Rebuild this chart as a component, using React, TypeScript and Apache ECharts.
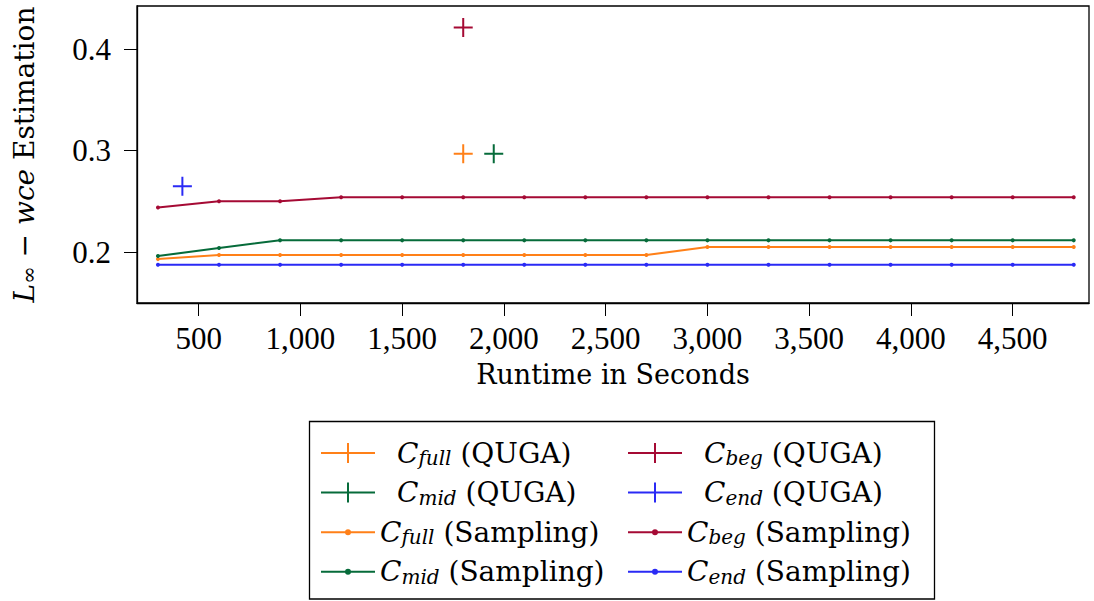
import React, { useEffect, useRef } from "react";
import * as echarts from "echarts";

// ---- data ----
const sampleTimes = [300, 600, 900, 1200, 1500, 1800, 2100, 2400, 2700, 3000, 3300, 3600, 3900, 4200, 4500, 4800];
const cFullSampling = [0.193, 0.197, 0.197, 0.197, 0.197, 0.197, 0.197, 0.197, 0.197, 0.205, 0.205, 0.205, 0.205, 0.205, 0.205, 0.205];
const cBegSampling = [0.244, 0.250, 0.250, 0.254, 0.254, 0.254, 0.254, 0.254, 0.254, 0.254, 0.254, 0.254, 0.254, 0.254, 0.254, 0.254];
const cMidSampling = [0.196, 0.204, 0.2115, 0.2115, 0.2115, 0.2115, 0.2115, 0.2115, 0.2115, 0.2115, 0.2115, 0.2115, 0.2115, 0.2115, 0.2115, 0.2115];
const cEndSampling = [0.1875, 0.1875, 0.1875, 0.1875, 0.1875, 0.1875, 0.1875, 0.1875, 0.1875, 0.1875, 0.1875, 0.1875, 0.1875, 0.1875, 0.1875, 0.1875];

const cFullQuga = [1800, 0.297];
const cBegQuga = [1800, 0.4215];
const cMidQuga = [1950, 0.297];
const cEndQuga = [420, 0.265];

const xTicks = [500, 1000, 1500, 2000, 2500, 3000, 3500, 4000, 4500];
const yTicks = [0.2, 0.3, 0.4];

const names = {
  fullQ: "Cfull (QUGA)",
  begQ: "Cbeg (QUGA)",
  midQ: "Cmid (QUGA)",
  endQ: "Cend (QUGA)",
  fullS: "Cfull (Sampling)",
  begS: "Cbeg (Sampling)",
  midS: "Cmid (Sampling)",
  endS: "Cend (Sampling)",
};

const COLORS = {
  full: "#ff8018",
  beg: "#a50a34",
  mid: "#066b3a",
  end: "#2a2af5",
};

const NUMFONT = "'Liberation Serif', 'Times New Roman', serif";
const FONT = "'DejaVu Serif', 'Liberation Serif', serif";

const crossPath = "path://M0,-1L0,1M-1,0L1,0";
const legendCross = "path://M0,10L54,10M27,0L27,20";
const legendDot = "path://M27,0M27,20M0,10L54,10M25,10A2,2 0 1,1 29,10A2,2 0 1,1 25,10Z";

function legendLabel(name: string): string {
  const m = name.match(/^C(\w+) \((\w+)\)$/);
  if (!m) return name;
  const sp = m[2] === "QUGA" ? "{sp| }" : "";
  return `${sp}{c|C}{s|${m[1]}}{t| (${m[2]})}`;
}

export default function App() {
  const ref = useRef<HTMLDivElement>(null);
  useEffect(() => {
    if (!ref.current) return;
    const chart = echarts.init(ref.current, null, { renderer: "svg" });

    const legendItem = (name: string, color: string, quga: boolean) => ({
      name,
      icon: quga ? legendCross : legendDot,
      itemStyle: { color, borderColor: color, borderWidth: 2 },
    });

    const richText = {
      c: { fontFamily: FONT, fontSize: 28, fontStyle: "italic", lineHeight: 30, color: "#000" },
      s: { fontFamily: FONT, fontSize: 20, fontStyle: "italic", lineHeight: 16, verticalAlign: "bottom", color: "#000" },
      t: { fontFamily: FONT, fontSize: 28, lineHeight: 30, color: "#000" },
      sp: { width: 17, fontSize: 28, lineHeight: 30 },
    };

    const legendCommon = {
      orient: "vertical",
      padding: 0,
      itemWidth: 54,
      itemHeight: 20,
      itemGap: 10.6,
      formatter: legendLabel,
      textStyle: { fontFamily: FONT, fontSize: 28, color: "#000", rich: richText },
      selectedMode: false,
    };

    const option: any = {
      animation: false,
      backgroundColor: "#fff",
      grid: {
        left: 137,
        top: 6,
        right: 5,
        bottom: 298,
        show: true,
        borderColor: "#000",
        borderWidth: 1.3,
        containLabel: false,
      },
      xAxis: {
        type: "value",
        min: 197,
        max: 4875,
        name: "Runtime in Seconds",
        nameLocation: "middle",
        nameGap: 58,
        nameTextStyle: { fontFamily: FONT, fontSize: 27, color: "#000" },
        axisLine: { show: true, lineStyle: { color: "#000", width: 1.3 } },
        axisTick: { show: true, length: 13, lineStyle: { color: "#000", width: 1 }, customValues: xTicks },
        axisLabel: {
          customValues: xTicks,
          margin: 20,
          fontFamily: NUMFONT,
          fontSize: 31,
          color: "#000",
          formatter: (v: number) => v.toLocaleString("en-US"),
        },
        splitLine: { show: false },
      },
      yAxis: {
        type: "value",
        min: 0.1497,
        max: 0.4427,
        name: "{it|L}{sub|∞}{t| − }{it|wce}{t| Estimation}",
        nameLocation: "middle",
        nameGap: 98,
        nameTextStyle: {
          fontFamily: FONT,
          fontSize: 28,
          color: "#000",
          rich: {
            it: { fontFamily: FONT, fontSize: 28, fontStyle: "italic", lineHeight: 30, color: "#000" },
            sub: { fontFamily: FONT, fontSize: 21, lineHeight: 16, verticalAlign: "bottom", color: "#000" },
            t: { fontFamily: FONT, fontSize: 28, lineHeight: 30, color: "#000" },
          },
        },
        axisLine: { show: true, lineStyle: { color: "#000", width: 1.3 } },
        axisTick: { show: true, length: 13, lineStyle: { color: "#000", width: 1 }, customValues: yTicks },
        axisLabel: {
          customValues: yTicks,
          margin: 26,
          fontFamily: NUMFONT,
          fontSize: 31,
          color: "#000",
          formatter: (v: number) => v.toFixed(1),
        },
        splitLine: { show: false },
      },
      legend: [
        {
          ...legendCommon,
          left: 320,
          top: 439,
          data: [
            legendItem(names.fullQ, COLORS.full, true),
            legendItem(names.midQ, COLORS.mid, true),
            legendItem(names.fullS, COLORS.full, false),
            legendItem(names.midS, COLORS.mid, false),
          ],
        },
        {
          ...legendCommon,
          left: 627,
          top: 439,
          data: [
            legendItem(names.begQ, COLORS.beg, true),
            legendItem(names.endQ, COLORS.end, true),
            legendItem(names.begS, COLORS.beg, false),
            legendItem(names.endS, COLORS.end, false),
          ],
        },
      ],
      graphic: [
        {
          type: "rect",
          shape: { x: 309.5, y: 421.5, width: 625, height: 177.5 },
          style: { fill: "none", stroke: "#000", lineWidth: 1.3 },
          silent: true,
        },
      ],
      series: [
        ...[
          [names.fullS, cFullSampling, COLORS.full],
          [names.midS, cMidSampling, COLORS.mid],
          [names.endS, cEndSampling, COLORS.end],
          [names.begS, cBegSampling, COLORS.beg],
        ].map(([name, vals, color]: any) => ({
          name,
          type: "line",
          data: sampleTimes.map((t, i) => [t, vals[i]]),
          symbol: "circle",
          symbolSize: 4,
          showAllSymbol: true,
          lineStyle: { color, width: 2 },
          itemStyle: { color },
        })),
        ...[
          [names.fullQ, cFullQuga, COLORS.full],
          [names.begQ, cBegQuga, COLORS.beg],
          [names.midQ, cMidQuga, COLORS.mid],
          [names.endQ, cEndQuga, COLORS.end],
        ].map(([name, pt, color]: any) => ({
          name,
          type: "scatter",
          data: [pt],
          symbol: crossPath,
          symbolSize: 19,
          itemStyle: { color, borderColor: color, borderWidth: 2, opacity: 1 },
        })),
      ],
    };

    chart.setOption(option);
    return () => chart.dispose();
  }, []);

  return (
    <div
      ref={ref}
      style={{ position: "fixed", left: 0, top: 0, width: 1094, height: 601, background: "#fff" }}
    />
  );
}
